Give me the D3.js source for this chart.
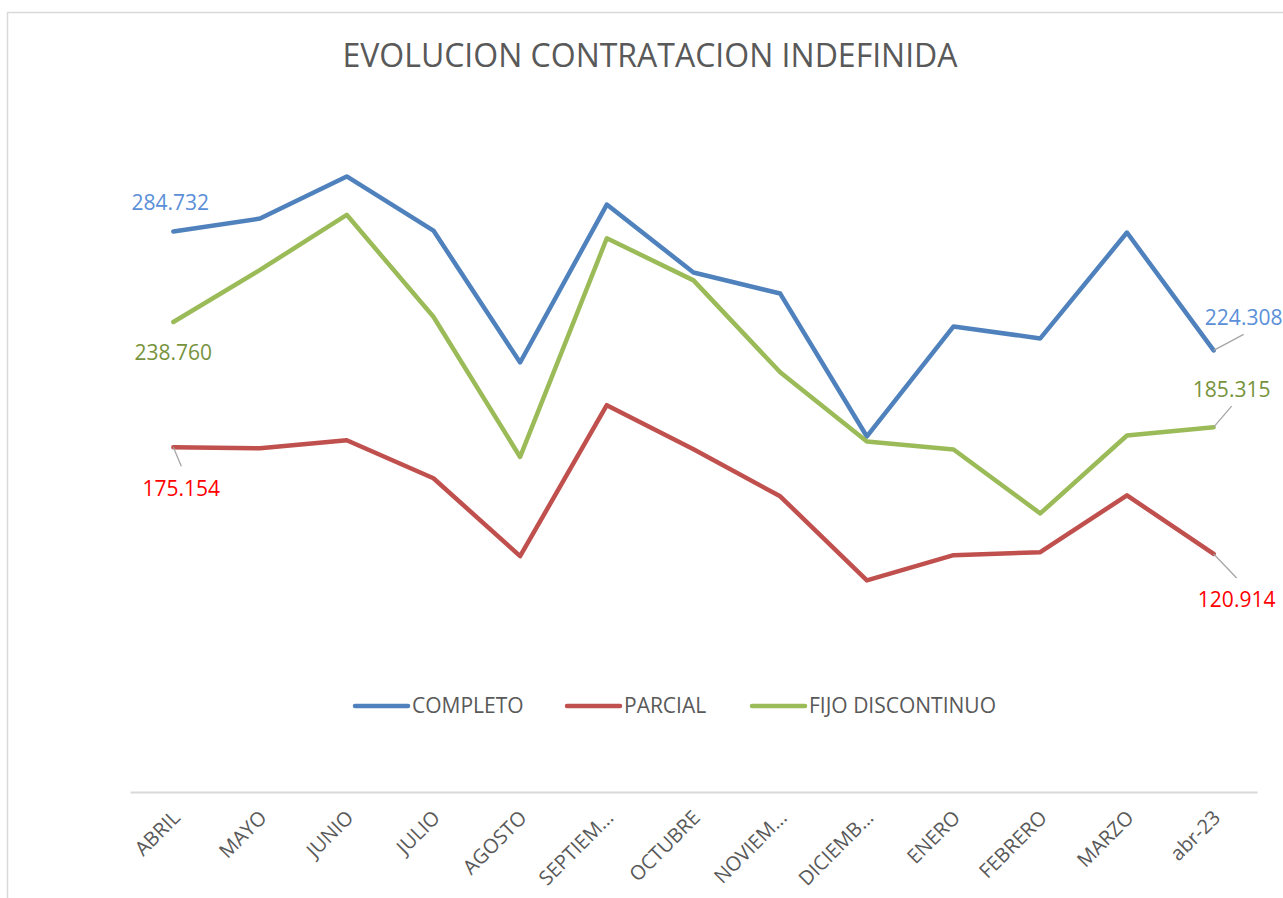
<!DOCTYPE html>
<html>
<head>
	<title>Evolucion contratacion indefinida</title>
	<style>
		body { margin: 0; background: #fff; }
		text { font-family: "Open Sans", Calibri, sans-serif; }
	</style>
</head>
<body>
	<script src="https://d3js.org/d3.v7.min.js"></script>
	<script>
		// months and series (thousands)
		var months = ["ABRIL", "MAYO", "JUNIO", "JULIO", "AGOSTO", "SEPTIEM...", "OCTUBRE", "NOVIEM...", "DICIEMB...", "ENERO", "FEBRERO", "MARZO", "abr-23"];
		var completo = [284.732, 291.3, 312.7, 285.2, 218.2, 298.4, 263.9, 253.2, 180.6, 236.5, 230.4, 284.2, 224.308];
		var parcial = [175.154, 174.6, 178.7, 159.4, 119.8, 196.5, 174.1, 150.2, 107.5, 120.3, 121.8, 150.7, 120.914];
		var fijo = [238.760, 265.2, 293.2, 241.4, 170.2, 281.3, 259.9, 213.2, 178.1, 174.0, 141.5, 181.1, 185.315];
		var seriesNames = ["COMPLETO", "PARCIAL", "FIJO DISCONTINUO"];
		var lineColors = ["#4F81BD", "#C0504D", "#9BBB59"];
		var labelColors = ["#5B8FD8", "#FF0000", "#77933C"];

		var W = 1283, H = 898;
		var svg = d3.select("body").append("svg")
			.attr("width", W)
			.attr("height", H);

		// chart border (top and left edges visible in the original)
		svg.append("rect")
			.attr("x", 7.5).attr("y", 12.5)
			.attr("width", W).attr("height", H)
			.style("fill", "none")
			.style("stroke", "#D9D9D9")
			.style("stroke-width", 1.5);

		svg.append("text")
			.attr("x", 650).attr("y", 67)
			.attr("text-anchor", "middle")
			.style("font-size", "32px")
			.style("fill", "#595959")
			.text("EVOLUCION CONTRATACION INDEFINIDA");

		var x = d3.scaleBand().domain(months).range([130, 1257]);
		var y = d3.scaleLinear().domain([0, 350]).range([792, 103]);

		// x axis
		var xAxis = svg.append("g")
			.attr("transform", "translate(0,792)")
			.call(d3.axisBottom(x).tickSize(0).tickPadding(0));
		xAxis.select(".domain").style("stroke", "#D9D9D9").style("stroke-width", 2);
		xAxis.selectAll("text")
			.attr("transform", "translate(3,22) rotate(-45)")
			.attr("text-anchor", "end")
			.attr("dy", "0.35em")
			.style("font-family", "\"Open Sans\", sans-serif")
			.style("font-size", "20px")
			.style("fill", "#595959");

		var data = [completo, parcial, fijo];
		var line = d3.line()
			.x(function(d, i) { return x(months[i]) + x.bandwidth() / 2; })
			.y(function(d) { return y(d); });

		data.forEach(function(s, k) {
			svg.append("path")
				.datum(s)
				.attr("d", line)
				.style("fill", "none")
				.style("stroke", lineColors[k])
				.style("stroke-width", 4.5)
				.style("stroke-linejoin", "round")
				.style("stroke-linecap", "round");
		});

		// data labels on first and last points: [series, index, dx, dy, leader]
		var labels = [
			[0, 0, -3, -29, false],
			[2, 0, 0, 31, false],
			[1, 0, 8, 41, true],
			[0, 12, 30, -33, true],
			[2, 12, 18, -38, true],
			[1, 12, 23, 46, true]
		];
		var fmt = function(v) { return v.toFixed(3); };
		labels.forEach(function(l) {
			var s = data[l[0]];
			var px = x(months[l[1]]) + x.bandwidth() / 2;
			var py = y(s[l[1]]);
			if (l[4]) {
				var ly = l[3] < 0 ? py + l[3] + 17 : py + l[3] - 22;
				svg.append("line")
					.attr("x1", px).attr("y1", py)
					.attr("x2", px + l[2]).attr("y2", ly)
					.style("stroke", "#A6A6A6")
					.style("stroke-width", 1.3);
			}
			svg.append("text")
				.attr("x", px + l[2])
				.attr("y", py + l[3])
				.attr("dy", "0.35em")
				.attr("text-anchor", "middle")
				.style("font-size", "21px")
				.style("fill", labelColors[l[0]])
				.text(fmt(s[l[1]]));
		});

		// legend
		var legX = [353, 565, 750];
		seriesNames.forEach(function(n, k) {
			var g = svg.append("g").attr("transform", "translate(" + legX[k] + ",706)");
			g.append("line")
				.attr("x1", 2).attr("x2", 55)
				.style("stroke", lineColors[k])
				.style("stroke-width", 4.5)
				.style("stroke-linecap", "round");
			g.append("text")
				.attr("x", 59).attr("dy", "0.35em")
				.style("font-size", "21px")
				.style("fill", "#595959")
				.text(n);
		});
	</script>
</body>
</html>
